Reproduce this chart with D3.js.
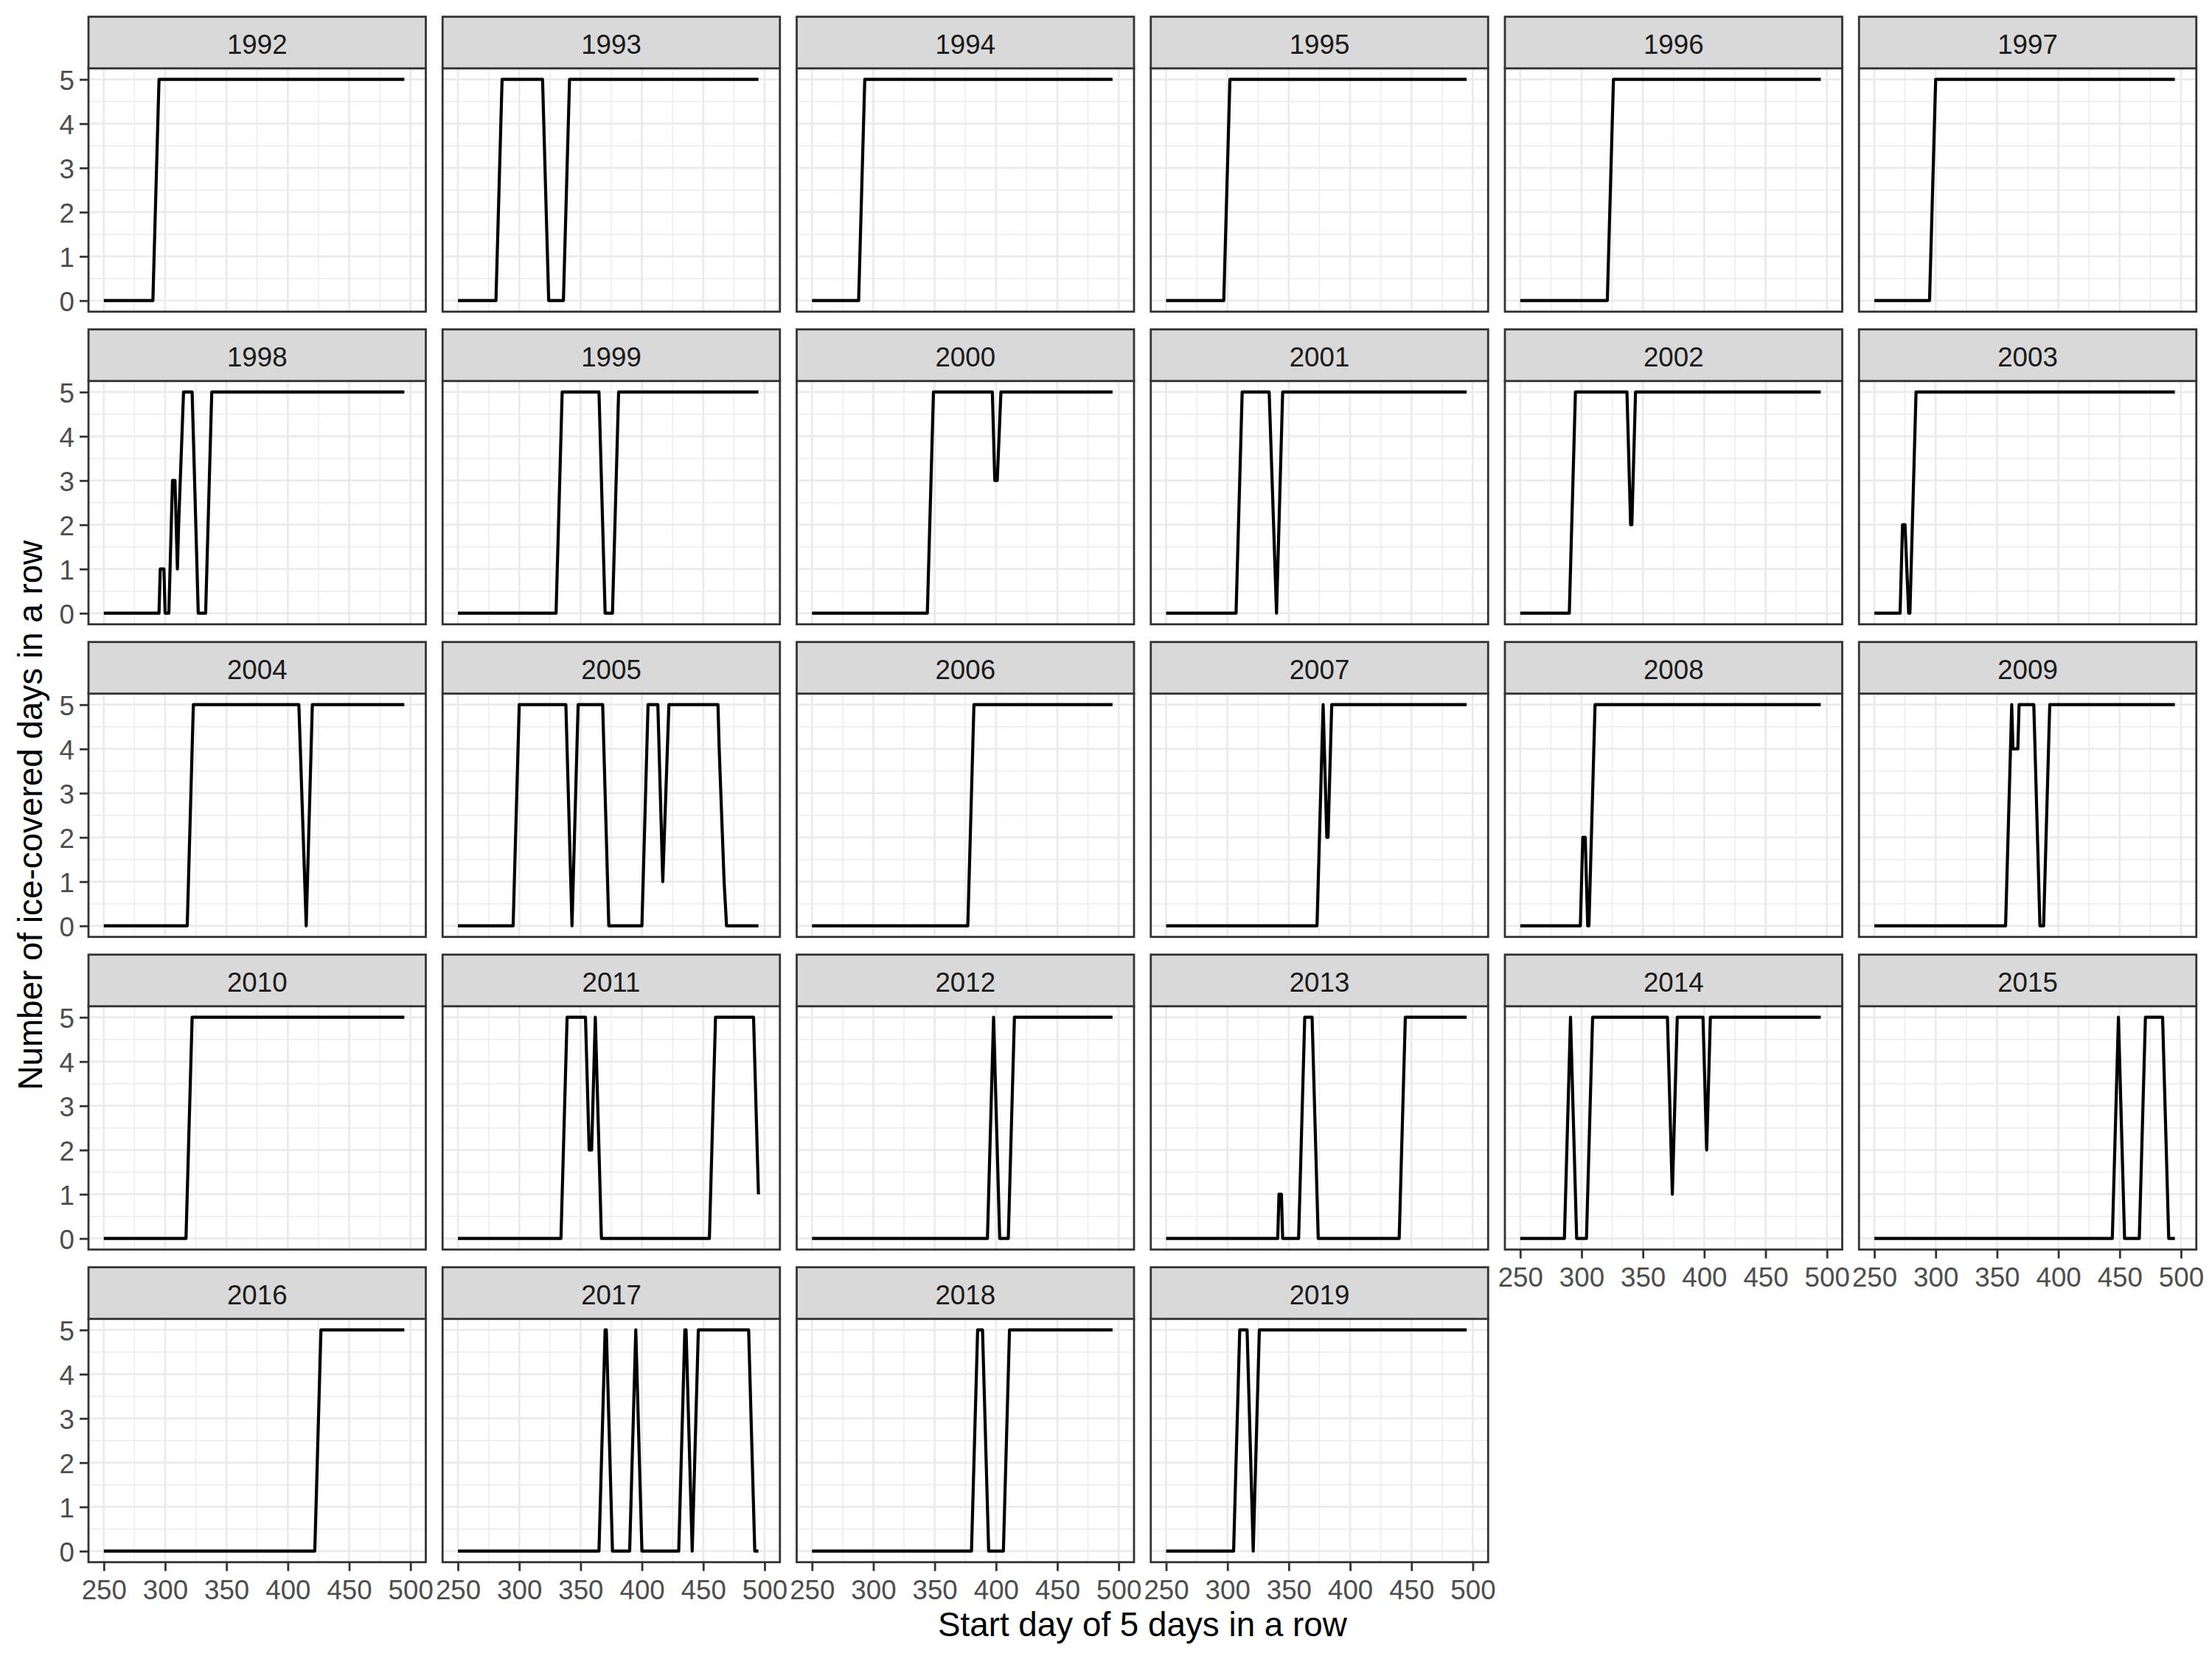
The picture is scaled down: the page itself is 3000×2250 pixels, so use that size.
<!DOCTYPE html>
<html><head><meta charset="utf-8">
<script src="https://cdn.jsdelivr.net/npm/d3@7"></script>
<style>html,body{margin:0;padding:0;background:#fff}</style>
</head><body>
<svg id="chart" width="3000" height="2250" xmlns="http://www.w3.org/2000/svg"></svg>
<script>
// ---- data: [start day, ice-covered days in 5-day window]
const years = [1992,1993,1994,1995,1996,1997,1998,1999,2000,2001,2002,2003,2004,2005,2006,2007,2008,2009,2010,2011,2012,2013,2014,2015,2016,2017,2018,2019];
const xTicks = [250,300,350,400,450,500];
const yTicks = [0,1,2,3,4,5];
const xTitle = "Start day of 5 days in a row";
const yTitle = "Number of ice-covered days in a row";

const s1992 = [[250,0],[290,0],[295,5],[495,5]];
const s1993 = [[250,0],[281,0],[286,5],[319,5],[324,0],[336,0],[341,5],[495,5]];
const s1994 = [[250,0],[288,0],[293,5],[495,5]];
const s1995 = [[250,0],[297,0],[302,5],[495,5]];
const s1996 = [[250,0],[321,0],[326,5],[495,5]];
const s1997 = [[250,0],[295,0],[300,5],[495,5]];
const s1998 = [[250,0],[295,0],[296,1],[299,1],[300,0],[303,0],[305,2],[306,3],[308,3],[310,1],[311,2],[315,5],[322,5],[327,0],[333,0],[338,5],[495,5]];
const s1999 = [[250,0],[330,0],[335,5],[365,5],[370,0],[376,0],[381,5],[495,5]];
const s2000 = [[250,0],[344,0],[349,5],[397,5],[399,3],[401,3],[404,5],[495,5]];
const s2001 = [[250,0],[307,0],[312,5],[334,5],[340,0],[345,5],[495,5]];
const s2002 = [[250,0],[290,0],[295,5],[337,5],[340,2],[341,2],[344,5],[495,5]];
const s2003 = [[250,0],[271,0],[273,2],[275,2],[278,0],[279,0],[284,5],[495,5]];
const s2004 = [[250,0],[318,0],[323,5],[409,5],[415,0],[420,5],[495,5]];
const s2005 = [[250,0],[295,0],[300,5],[338,5],[342,1],[343,0],[348,5],[368,5],[373,0],[400,0],[405,5],[413,5],[417,1],[422,5],[462,5],[463,4],[467,1],[469,0],[495,0]];
const s2006 = [[250,0],[377,0],[382,5],[495,5]];
const s2007 = [[250,0],[373,0],[378,5],[381,2],[382,2],[385,5],[495,5]];
const s2008 = [[250,0],[299,0],[301,2],[303,2],[305,0],[306,0],[311,5],[495,5]];
const s2009 = [[250,0],[357,0],[362,5],[363,4],[367,4],[368,5],[380,5],[385,0],[388,0],[393,5],[495,5]];
const s2010 = [[250,0],[317,0],[322,5],[495,5]];
const s2011 = [[250,0],[334,0],[339,5],[354,5],[357,2],[359,2],[362,5],[367,0],[455,0],[460,5],[491,5],[495,1]];
const s2012 = [[250,0],[393,0],[398,5],[403,0],[410,0],[415,5],[495,5]];
const s2013 = [[250,0],[341,0],[342,1],[344,1],[345,0],[358,0],[363,5],[369,5],[374,0],[440,0],[445,5],[495,5]];
const s2014 = [[250,0],[286,0],[291,5],[296,0],[304,0],[309,5],[370,5],[374,1],[378,5],[399,5],[402,2],[405,5],[495,5]];
const s2015 = [[250,0],[444,0],[449,5],[454,0],[466,0],[471,5],[485,5],[490,0],[495,0]];
const s2016 = [[250,0],[422,0],[427,5],[495,5]];
const s2017 = [[250,0],[365,0],[370,5],[371,5],[376,0],[390,0],[395,5],[400,0],[430,0],[435,5],[436,5],[441,0],[446,5],[487,5],[492,0],[495,0]];
const s2018 = [[250,0],[380,0],[385,5],[389,5],[394,0],[406,0],[411,5],[495,5]];
const s2019 = [[250,0],[305,0],[310,5],[316,5],[321,0],[326,5],[495,5]];

const seriesList = [s1992,s1993,s1994,s1995,s1996,s1997,s1998,s1999,s2000,s2001,s2002,s2003,s2004,s2005,s2006,s2007,s2008,s2009,s2010,s2011,s2012,s2013,s2014,s2015,s2016,s2017,s2018,s2019];

// ---- layout
const ncol = 6, nrow = 5;
const left0 = 120, colPitch = 480.25, pw = 457.5;
const top0 = 22.7, rowPitch = 424, stripH = 70, ph = 330;
const font = "'Liberation Sans', Arial, Helvetica, sans-serif";
const tickFont = 36.7, titleFont = 45.8;

const xDom = [250 - 0.05*250, 500 + 0.05*250];
const yDom = [0 - 0.05*5, 5 + 0.05*5];
const x = d3.scaleLinear().domain(xDom).range([0, pw]);
const y = d3.scaleLinear().domain(yDom).range([ph, 0]);
const xMinor = [275,325,375,425,475];
const yMinor = [0.5,1.5,2.5,3.5,4.5];

const svg = d3.select("#chart");
svg.append("rect").attr("width",3000).attr("height",2250).attr("fill","#fff");

const line = d3.line().x(d => x(d[0])).y(d => y(d[1]));

years.forEach((yr, i) => {
  const c = i % ncol, r = Math.floor(i / ncol);
  const px = left0 + c*colPitch;
  const sy = top0 + r*rowPitch;
  const py = sy + stripH;
  const g = svg.append("g").attr("transform", `translate(${px},${py})`);

  // grid
  g.selectAll(".xmin").data(xMinor).join("line")
    .attr("x1", d=>x(d)).attr("x2", d=>x(d)).attr("y1",0).attr("y2",ph)
    .attr("stroke","#EBEBEB").attr("stroke-width",1.4);
  g.selectAll(".ymin").data(yMinor).join("line")
    .attr("y1", d=>y(d)).attr("y2", d=>y(d)).attr("x1",0).attr("x2",pw)
    .attr("stroke","#EBEBEB").attr("stroke-width",1.4);
  g.selectAll(".xmaj").data(xTicks).join("line")
    .attr("x1", d=>x(d)).attr("x2", d=>x(d)).attr("y1",0).attr("y2",ph)
    .attr("stroke","#EBEBEB").attr("stroke-width",2.8);
  g.selectAll(".ymaj").data(yTicks).join("line")
    .attr("y1", d=>y(d)).attr("y2", d=>y(d)).attr("x1",0).attr("x2",pw)
    .attr("stroke","#EBEBEB").attr("stroke-width",2.8);

  // data line
  g.append("path").datum(seriesList[i]).attr("d", line)
    .attr("fill","none").attr("stroke","#000").attr("stroke-width",4.2)
    .attr("stroke-linejoin","round").attr("stroke-linecap","butt");

  // panel border
  g.append("rect").attr("x",0).attr("y",0).attr("width",pw).attr("height",ph)
    .attr("fill","none").attr("stroke","#333333").attr("stroke-width",2.8);

  // strip
  svg.append("rect").attr("x",px).attr("y",sy).attr("width",pw).attr("height",stripH)
    .attr("fill","#D9D9D9").attr("stroke","#333333").attr("stroke-width",2.8);
  svg.append("text").attr("x",px+pw/2).attr("y",sy+stripH/2+15)
    .attr("text-anchor","middle").attr("font-family",font).attr("font-size",tickFont)
    .attr("fill","#1A1A1A").text(yr);

  // y axis on first column
  if (c === 0) {
    const ya = g.append("g").call(d3.axisLeft(y).tickValues(yTicks).tickSize(12).tickPadding(7).tickFormat(d3.format("d")));
    ya.select(".domain").remove();
    ya.selectAll(".tick line").attr("stroke","#333333").attr("stroke-width",2.8);
    ya.selectAll(".tick text").attr("font-family",font).attr("font-size",tickFont)
      .attr("fill","#4D4D4D").attr("dy","0.38em");
  }
  // x axis on lowest panel of each column
  const below = i + ncol;
  if (below >= years.length) {
    const xa = g.append("g").attr("transform",`translate(0,${ph})`)
      .call(d3.axisBottom(x).tickValues(xTicks).tickSize(12).tickPadding(12).tickFormat(d3.format("d")));
    xa.select(".domain").remove();
    xa.selectAll(".tick line").attr("stroke","#333333").attr("stroke-width",2.8);
    xa.selectAll(".tick text").attr("font-family",font).attr("font-size",tickFont)
      .attr("fill","#4D4D4D");
  }
});

// axis titles
const plotTop = top0 + stripH;
const plotBottom = top0 + (nrow-1)*rowPitch + stripH + ph;
const plotLeft = left0, plotRight = left0 + (ncol-1)*colPitch + pw;
svg.append("text").attr("x",(plotLeft+plotRight)/2).attr("y",plotBottom+100)
  .attr("text-anchor","middle").attr("font-family",font).attr("font-size",titleFont)
  .attr("fill","#000").text(xTitle);
svg.append("text").attr("transform",`translate(57,${(plotTop+plotBottom)/2}) rotate(-90)`)
  .attr("text-anchor","middle").attr("font-family",font).attr("font-size",titleFont)
  .attr("fill","#000").text(yTitle);
</script>
</body></html>
